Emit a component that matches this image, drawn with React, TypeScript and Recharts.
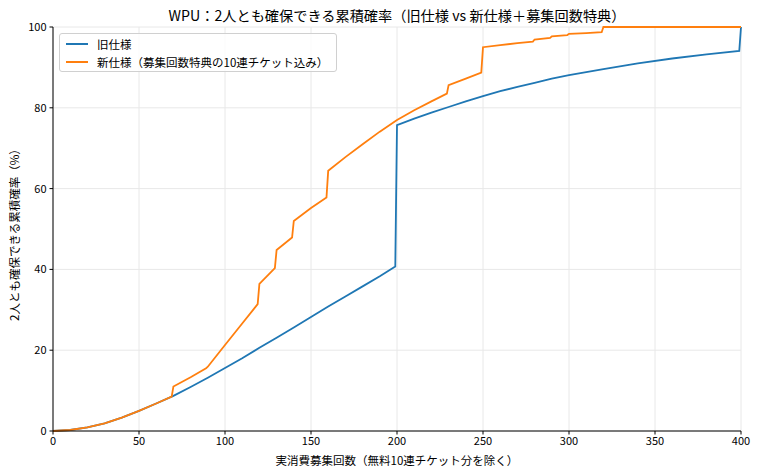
import { LineChart, Line, XAxis, YAxis, CartesianGrid } from 'recharts';

// 旧仕様: draws -> cumulative probability (%)
const oldDraws = [0, 10, 20, 30, 40, 50, 60, 70, 80, 90, 100, 110, 120, 130, 140, 150, 160, 170, 180, 190, 199, 200, 210, 220, 230, 240, 250, 260, 270, 280, 290, 300, 320, 340, 360, 380, 399, 400];
const oldProb = [0, 0.25, 0.9, 1.9, 3.3, 5.0, 6.8, 8.7, 10.9, 13.2, 15.6, 18.0, 20.6, 23.1, 25.6, 28.2, 30.8, 33.3, 35.8, 38.3, 40.7, 75.7, 77.3, 78.8, 80.2, 81.6, 82.9, 84.1, 85.2, 86.2, 87.2, 88.1, 89.6, 91.0, 92.2, 93.2, 94.1, 100];

// 新仕様 (募集回数特典込み)
const newDraws = [0, 10, 20, 30, 40, 50, 60, 69, 70, 80, 89, 90, 100, 110, 119, 120, 129, 130, 139, 140, 150, 159, 160, 170, 180, 190, 200, 210, 220, 229, 230, 240, 249, 250, 260, 270, 279, 280, 289, 290, 299, 300, 310, 319, 320, 400];
const newProb = [0, 0.25, 0.9, 1.9, 3.3, 5.0, 6.8, 8.5, 11.0, 13.3, 15.5, 15.9, 21.3, 26.6, 31.4, 36.4, 40.3, 44.8, 47.9, 52.0, 55.2, 57.8, 64.4, 67.8, 71.0, 74.1, 77.0, 79.4, 81.6, 83.5, 85.6, 87.2, 88.7, 95.0, 95.5, 96.0, 96.4, 96.9, 97.3, 97.7, 98.0, 98.3, 98.5, 98.7, 100, 100];

const xTicks = [0, 50, 100, 150, 200, 250, 300, 350, 400];
const yTicks = [0, 20, 40, 60, 80, 100];

const oldLabel = '旧仕様';
const newLabel = '新仕様（募集回数特典の10連チケット込み）';

const oldData = oldDraws.map((n, i) => ({ n, p: oldProb[i] }));
const newData = newDraws.map((n, i) => ({ n, p: newProb[i] }));

const FONT = '"Noto Sans CJK JP", "Noto Sans", sans-serif';
const BLUE = '#1f77b4';
const ORANGE = '#ff7f0e';

const tickStyle = { fontSize: 11, fill: '#000', fontFamily: FONT };

export default function App() {
  return (
    <div style={{ position: 'absolute', left: 0, top: 0, width: 760, height: 476, background: '#fff', fontFamily: FONT }}>
      <LineChart width={760} height={476} data={oldData} margin={{ top: 27, right: 19, left: 0, bottom: 0 }}>
        <CartesianGrid stroke="#e8e8e8" strokeWidth={1} />
        <XAxis
          dataKey="n"
          type="number"
          domain={[0, 400]}
          ticks={xTicks}
          height={45}
          tick={tickStyle}
          tickSize={3.5}
          tickMargin={3}
          stroke="#000"
          allowDuplicatedCategory={false}
        />
        <XAxis xAxisId="top" orientation="top" type="number" domain={[0, 400]} height={0} tick={false} tickLine={false} stroke="#000" />
        <YAxis
          type="number"
          domain={[0, 100]}
          ticks={yTicks}
          width={53}
          tick={tickStyle}
          tickSize={3.5}
          tickMargin={3}
          stroke="#000"
        />
        <YAxis yAxisId="right" orientation="right" type="number" domain={[0, 100]} width={0} tick={false} tickLine={false} stroke="#000" />
        <Line data={oldData} dataKey="p" type="linear" stroke={BLUE} strokeWidth={1.8} dot={false} isAnimationActive={false} />
        <Line data={newData} dataKey="p" type="linear" stroke={ORANGE} strokeWidth={1.8} dot={false} isAnimationActive={false} />
      </LineChart>

      <div style={{ position: 'absolute', left: 53, width: 688, top: 5, textAlign: 'center', fontSize: 14.2, whiteSpace: 'nowrap' }}>
        WPU：2人とも確保できる累積確率（旧仕様 vs 新仕様＋募集回数特典）
      </div>
      <div style={{ position: 'absolute', left: 53, width: 688, top: 452, textAlign: 'center', fontSize: 11.5, whiteSpace: 'nowrap' }}>
        実消費募集回数（無料10連チケット分を除く）
      </div>
      <div
        style={{
          position: 'absolute',
          left: 14,
          top: 232,
          fontSize: 11.5,
          whiteSpace: 'nowrap',
          transform: 'translate(-50%, -50%) rotate(-90deg)',
        }}
      >
        2人とも確保できる累積確率（%）
      </div>

      <div
        style={{
          position: 'absolute',
          left: 59,
          top: 33,
          width: 276,
          height: 37,
          border: '1px solid #d0d0d0',
          borderRadius: 3,
          background: 'rgba(255,255,255,0.8)',
          fontSize: 11.5,
        }}
      >
        {[
          { label: oldLabel, color: BLUE },
          { label: newLabel, color: ORANGE },
        ].map((item, i) => (
          <div key={i} style={{ position: 'absolute', left: 6, top: 1 + i * 18, height: 18, display: 'flex', alignItems: 'center', whiteSpace: 'nowrap' }}>
            <div style={{ width: 22, height: 2, background: item.color, marginRight: 9 }} />
            <span>{item.label}</span>
          </div>
        ))}
      </div>
    </div>
  );
}
